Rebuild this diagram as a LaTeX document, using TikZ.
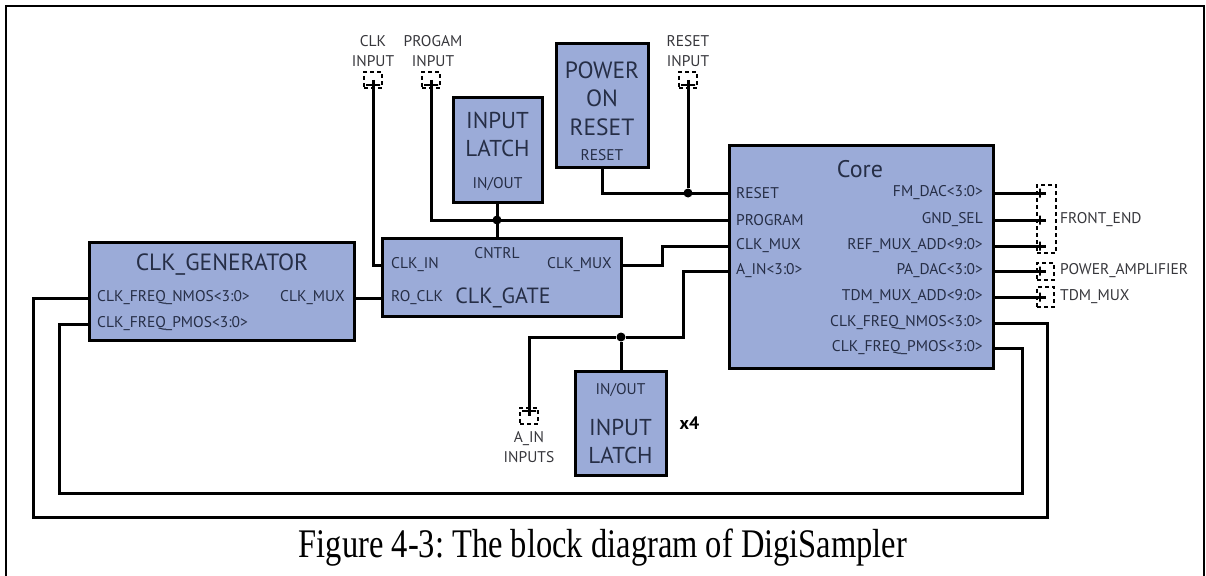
\documentclass[tikz,border=0pt]{standalone}
\usepackage{fontspec}
\setmainfont{Liberation Serif}
\newfontfamily\diagfont{PT Sans}
\usepackage{tikz}
\usetikzlibrary{positioning}
\frenchspacing

\definecolor{boxfill}{RGB}{155,171,216}
\definecolor{labtext}{RGB}{38,46,70}
\definecolor{padtext}{RGB}{55,55,60}

\begin{document}
\begin{tikzpicture}[
  x=1pt, y=-1pt,
  every node/.style={font=\diagfont\fontsize{15.5}{17}\selectfont, text=labtext, inner sep=0pt},
  box/.style={draw, line width=3pt, fill=boxfill, inner sep=0pt},
  wire/.style={line width=3pt},
  title/.style={font=\diagfont\fontsize{22}{24}\selectfont},
  bigtitle/.style={font=\diagfont\fontsize{23}{28}\selectfont, align=center},
  pad/.style={draw, dash pattern=on 4pt off 3pt, line width=1.5pt, minimum width=18pt, minimum height=16pt},
  padlabel/.style={font=\diagfont\fontsize{15.5}{20}\selectfont, text=padtext, align=center},
  vtick/.style={draw, line width=1.5pt, minimum width=0pt, minimum height=9pt},
  htick/.style={draw, line width=1.5pt, minimum width=14pt, minimum height=0pt},
  dot/.style={circle, fill=black, minimum size=9pt}
]
\useasboundingbox (0,0) rectangle (1206,575);
% frame
\draw[line width=2.5pt] (1204,576) -- (1204,6) -- (6,6) -- (6,576);

% blocks
\node[box, minimum width=264pt, minimum height=223pt] (core) at (861,256.5) {};
\node[box, minimum width=265pt, minimum height=98pt] (clkgen) at (221.5,291) {};
\node[box, minimum width=239pt, minimum height=78pt] (clkgate) at (501.5,277) {};
\node[box, minimum width=89pt, minimum height=104pt] (latchtop) at (497.5,150) {};
\node[box, minimum width=92pt, minimum height=123pt] (por) at (602,105.5) {};
\node[box, minimum width=91pt, minimum height=104pt] (latchbot) at (620.5,423) {};

% block texts
\node[title, font=\diagfont\fontsize{24}{26}\selectfont] (coretitle) at (860,169) {Core};
\node[anchor=west] (cRESET) at (736,193) {RESET};
\node[anchor=west] (cPROGRAM) at (736,220) {PROGRAM};
\node[anchor=west] (cCLKMUX) at (736,246) {CLK\_MUX};
\node[anchor=west] (cAIN) at (736,271) {A\_IN<3:0>};
\node[anchor=east] (cFMDAC) at (983,193) {FM\_DAC<3:0>};
\node[anchor=east] (cGNDSEL) at (983,220) {GND\_SEL};
\node[anchor=east] (cREFMUX) at (983,246) {REF\_MUX\_ADD<9:0>};
\node[anchor=east] (cPADAC) at (983,271) {PA\_DAC<3:0>};
\node[anchor=east] (cTDMMUX) at (983,297) {TDM\_MUX\_ADD<9:0>};
\node[anchor=east] (cNMOS) at (983,323) {CLK\_FREQ\_NMOS<3:0>};
\node[anchor=east] (cPMOS) at (983,348) {CLK\_FREQ\_PMOS<3:0>};

\node[title, font=\diagfont\fontsize{23.5}{26}\selectfont] (gentitle) at (222,265) {CLK\_GENERATOR};
\node[anchor=west] (gNMOS) at (97,298) {CLK\_FREQ\_NMOS<3:0>};
\node[anchor=west] (gPMOS) at (97,324) {CLK\_FREQ\_PMOS<3:0>};
\node[anchor=east] (gCLKMUX) at (345,298) {CLK\_MUX};

\node[title] (gatetitle) at (503,298) {CLK\_GATE};
\node[anchor=west] (gtCLKIN) at (391,265) {CLK\_IN};
\node[anchor=west] (gtROCLK) at (391,298) {RO\_CLK};
\node[anchor=east] (gtCLKMUX) at (612,265) {CLK\_MUX};
\node (gtCNTRL) at (497,253) {CNTRL};

\node[bigtitle] (lttitle) at (497.5,134) {INPUT\\LATCH};
\node (ltINOUT) at (497.5,184) {IN/OUT};
\node[bigtitle, font=\diagfont\fontsize{23.5}{28.5}\selectfont] (portitle) at (602,98.5) {POWER\\ON\\RESET};
\node (porRESET) at (602,155) {RESET};
\node (lbINOUT) at (620.5,390) {IN/OUT};
\node[bigtitle] (lbtitle) at (620.5,441) {INPUT\\LATCH};
\node[font=\diagfont\bfseries\fontsize{18}{20}\selectfont, text=black, right=12pt of latchbot.east] (times4) {x4};

% pads
\node[pad] (clkpad) at (373,80) {};
\node[pad] (progpad) at (431,80) {};
\node[pad] (rstpad) at (688,80) {};
\node[pad] (ainpad) at (529,416) {};
\node[pad, minimum width=19pt, minimum height=68pt] (fepad) at (1046.5,219) {};
\node[pad, minimum width=17pt, minimum height=17pt] (papad) at (1045.5,271.5) {};
\node[pad, minimum width=17pt, minimum height=20pt] (tdmpad) at (1045.5,297) {};

\node[padlabel] (clklab) at (373,51) {CLK\\INPUT};
\node[padlabel] (proglab) at (433,51) {PROGAM\\INPUT};
\node[padlabel] (rstlab) at (688,51) {RESET\\INPUT};
\node[padlabel] (ainlab) at (529,447) {A\_IN\\INPUTS};
\node[padlabel, anchor=west] (felab) at (1060,220) {FRONT\_END};
\node[padlabel, anchor=west] (palab) at (1060,271) {POWER\_AMPLIFIER};
\node[padlabel, anchor=west] (tdmlab) at (1060,297) {TDM\_MUX};

% pad ticks
\node[htick] (clktick) at (373,85) {};
\node[htick] (progtick) at (431,85) {};
\node[htick] (rsttick) at (688,85) {};
\node[htick] (aintick) at (529,411) {};
\coordinate (outx) at (1046,0);
\node[vtick] (t1) at (1040,193) {};
\node[vtick] (t2) at (1040,220) {};
\node[vtick] (t3) at (1040,246) {};
\node[vtick] (t4) at (1040,271) {};
\node[vtick] (t5) at (1040,297) {};

% junctions
\node[dot] (rstjoin) at (688,193) {};
\node[dot] (progjoin) at (497,220) {};
\node[dot] (ainjoin) at (621,337) {};

% wiring
\draw[wire] (por.south) |- (cRESET -| core.west);
\draw[wire] (rstpad.center) -- (rstjoin);
\draw[wire] (progpad.center) |- (cPROGRAM -| core.west);
\draw[wire] (latchtop.south) -- (clkgate.north -| latchtop.south);
\draw[wire] (clkpad.center) |- (gtCLKIN -| clkgate.west);
\draw[wire] (gCLKMUX -| clkgen.east) -- (gtROCLK -| clkgate.west);
\draw[wire] (gtCLKMUX -| clkgate.east) -- (662,265) |- (cCLKMUX -| core.west);
\draw[wire] (cAIN -| core.west) -- (683,271) |- (ainjoin) -| (ainpad.center);
\draw[wire] (ainjoin) -- (latchbot.north -| ainjoin);
\draw[wire] (cNMOS -| core.east) -- (1047,323) -- (1047,517) -- (33,517) |- (gNMOS -| clkgen.west);
\draw[wire] (cPMOS -| core.east) -- (1022,348) -- (1022,493) -- (59,493) |- (gPMOS -| clkgen.west);
\draw[wire] (cFMDAC -| core.east) -- (cFMDAC -| outx);
\draw[wire] (cGNDSEL -| core.east) -- (cGNDSEL -| outx);
\draw[wire] (cREFMUX -| core.east) -- (cREFMUX -| outx);
\draw[wire] (cPADAC -| core.east) -- (cPADAC -| outx);
\draw[wire] (cTDMMUX -| core.east) -- (cTDMMUX -| outx);

% caption
\node[font=\rmfamily\fontsize{32.5}{36}\selectfont, text=black] (caption) at (603,548) {\scalebox{1}[1.25]{Figure 4-3: The block diagram of DigiSampler}};
\end{tikzpicture}
\end{document}
